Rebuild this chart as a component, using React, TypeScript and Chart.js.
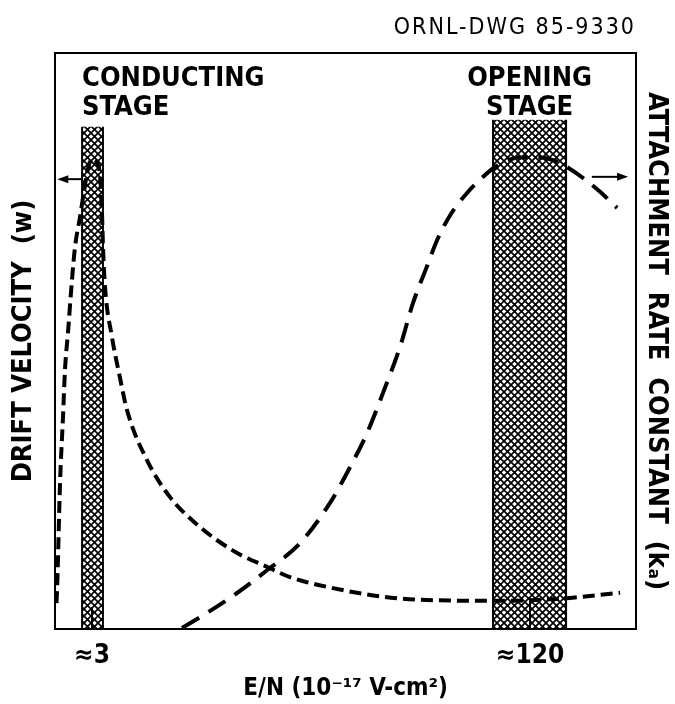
import React, { useEffect, useRef } from 'react';
import { Chart, registerables } from 'chart.js';

Chart.register(...registerables);

// Drift velocity w (left axis), arbitrary units 0-100, vs E/N (10^-17 V-cm^2)
const driftEN = [2.225, 2.24, 2.292, 2.35, 2.39, 2.451, 2.535, 2.6, 2.712, 2.828, 2.925, 3.025, 3.129, 3.209, 3.264, 3.292, 3.348, 3.55, 3.798, 4.029, 4.768, 5.787, 7.45, 10.18, 13.1, 15.9, 22.84, 34.8, 53.03, 87.9, 120.1, 168.2, 256.3];
const driftW = [4.5, 8.0, 25.3, 36.8, 45.0, 51.5, 60.6, 66.3, 71.5, 77.1, 80.6, 81.6, 80.9, 78.8, 72.2, 66.3, 59.4, 50.7, 43.6, 38.0, 29.3, 22.9, 17.7, 13.2, 10.8, 9.0, 7.1, 5.6, 5.0, 4.9, 5.0, 5.4, 6.3];

// Attachment rate constant ka (right axis), arbitrary units 0-100
const attachEN = [6.404, 7.904, 10.18, 13.1, 17.3, 22.27, 26.36, 30.41, 34.8, 40.17, 44.81, 50.43, 54.85, 61.18, 70.62, 80.82, 89.39, 107.6, 127.4, 145.7, 161.2, 187.6, 216.5, 249.9];
const attachK = [0.2, 2.8, 6.25, 10.2, 14.9, 21.9, 28.1, 34.0, 41.0, 49.0, 56.6, 63.0, 67.5, 71.8, 75.7, 78.5, 80.2, 81.8, 81.9, 81.4, 80.4, 78.3, 75.9, 73.1];

// Shaded operating bands
const bandStartEN = [2.76, 87.9];
const bandEndEN = [3.29, 162.6];
const bandTop = [87.2, 88.4];
const bandLabelLines = [['CONDUCTING', 'STAGE'], ['OPENING', 'STAGE']];

// x tick labels
const tickValues = [3, 120];
const tickLabels = ['\u22483', '\u2248120'];
const tickMarkTop = [3.8, 5.4];

// Axis-indicator arrows
const arrowFromEN = [2.76, 202];
const arrowToEN = [2.24, 274];
const arrowY = [78.1, 78.5];

const docNumber = 'ORNL-DWG 85-9330';

const FONT = '"Liberation Sans Narrow", "DejaVu Sans Condensed", "Liberation Sans", Arial, sans-serif';

function makePattern(): CanvasPattern | string {
  const c = document.createElement('canvas');
  const s = 7;
  c.width = s;
  c.height = s;
  const g = c.getContext('2d');
  if (!g) return '#555';
  g.fillStyle = '#fff';
  g.fillRect(0, 0, s, s);
  g.strokeStyle = '#000';
  g.lineWidth = 1.7;
  for (const k of [-s, 0, s]) {
    g.beginPath();
    g.moveTo(k, 0);
    g.lineTo(k + s, s);
    g.moveTo(k + s, 0);
    g.lineTo(k, s);
    g.stroke();
  }
  const p = g.createPattern(c, 'repeat');
  return p || '#555';
}

export default function App() {
  const ref = useRef<HTMLCanvasElement | null>(null);

  useEffect(() => {
    if (!ref.current) return;
    const pattern = makePattern();

    const schematic = {
      id: 'schematic',
      beforeDatasetsDraw(chart: any) {
        const { ctx, chartArea, scales } = chart;
        const x = scales.x;
        const y = scales.y;
        ctx.save();
        for (let i = 0; i < bandStartEN.length; i++) {
          const x0 = x.getPixelForValue(bandStartEN[i]);
          const x1 = x.getPixelForValue(bandEndEN[i]);
          const yt = y.getPixelForValue(bandTop[i]);
          ctx.fillStyle = pattern;
          ctx.fillRect(x0, yt, x1 - x0, chartArea.bottom - yt);
          ctx.strokeStyle = '#000';
          ctx.lineWidth = 2;
          ctx.beginPath();
          ctx.moveTo(x0, yt);
          ctx.lineTo(x0, chartArea.bottom);
          ctx.moveTo(x1, yt);
          ctx.lineTo(x1, chartArea.bottom);
          ctx.stroke();
        }
        // tick marks inside the plot
        ctx.lineWidth = 2;
        for (let i = 0; i < tickValues.length; i++) {
          const px = x.getPixelForValue(tickValues[i]);
          ctx.beginPath();
          ctx.moveTo(px, chartArea.bottom);
          ctx.lineTo(px, y.getPixelForValue(tickMarkTop[i]));
          ctx.stroke();
        }
        ctx.restore();
      },
      afterDatasetsDraw(chart: any) {
        const { ctx, chartArea, scales } = chart;
        const x = scales.x;
        const y = scales.y;
        ctx.save();
        // frame
        ctx.strokeStyle = '#000';
        ctx.lineWidth = 2;
        ctx.strokeRect(chartArea.left, chartArea.top, chartArea.right - chartArea.left, chartArea.bottom - chartArea.top);
        // arrows
        ctx.fillStyle = '#000';
        ctx.lineWidth = 2;
        for (let i = 0; i < arrowFromEN.length; i++) {
          const xa = x.getPixelForValue(arrowFromEN[i]);
          const xb = x.getPixelForValue(arrowToEN[i]);
          const ya = y.getPixelForValue(arrowY[i]);
          const dir = Math.sign(xb - xa);
          ctx.beginPath();
          ctx.moveTo(xa, ya);
          ctx.lineTo(xb - dir * 8, ya);
          ctx.stroke();
          ctx.beginPath();
          ctx.moveTo(xb, ya);
          ctx.lineTo(xb - dir * 11, ya - 4);
          ctx.lineTo(xb - dir * 11, ya + 4);
          ctx.closePath();
          ctx.fill();
        }
        // band labels
        ctx.font = 'bold 27px ' + FONT;
        ctx.textBaseline = 'alphabetic';
        for (let i = 0; i < bandLabelLines.length; i++) {
          const x0 = x.getPixelForValue(bandStartEN[i]);
          const x1 = x.getPixelForValue(bandEndEN[i]);
          const lines = bandLabelLines[i];
          for (let j = 0; j < lines.length; j++) {
            const by = chartArea.top + 33 + j * 29;
            if (i === 0) {
              ctx.textAlign = 'left';
              ctx.fillText(lines[j], x0, by);
            } else {
              ctx.textAlign = 'center';
              ctx.fillText(lines[j], (x0 + x1) / 2, by);
            }
          }
        }
        // drawing number
        ctx.font = '23px ' + FONT;
        ctx.textAlign = 'right';
        (ctx as any).letterSpacing = '2px';
        ctx.fillText(docNumber, chartArea.right, chartArea.top - 19);
        ctx.restore();
      },
    };

    const chart = new Chart(ref.current, {
      type: 'line',
      data: {
        datasets: [
          {
            label: 'Drift velocity (w)',
            data: driftEN.map((v, i) => ({ x: v, y: driftW[i] })),
            yAxisID: 'y',
            borderColor: '#000',
            borderWidth: 4,
            borderDash: [12, 6],
            pointRadius: 0,
            cubicInterpolationMode: 'monotone',
            fill: false,
          },
          {
            label: 'Attachment rate constant (ka)',
            data: attachEN.map((v, i) => ({ x: v, y: attachK[i] })),
            yAxisID: 'y2',
            borderColor: '#000',
            borderWidth: 4,
            borderDash: [20, 11],
            pointRadius: 0,
            cubicInterpolationMode: 'monotone',
            fill: false,
          },
        ],
      },
      options: {
        animation: false,
        responsive: true,
        maintainAspectRatio: false,
        layout: { padding: { top: 53, left: 0, right: 0, bottom: 0 } },
        plugins: {
          legend: { display: false },
          tooltip: { enabled: false },
        },
        scales: {
          x: {
            type: 'logarithmic',
            min: 2.197,
            max: 293,
            grid: { display: false, drawTicks: false },
            border: { display: false },
            afterBuildTicks: (axis: any) => {
              axis.ticks = tickValues.map((v) => ({ value: v }));
            },
            afterFit: (s: any) => {
              s.height = 75;
            },
            ticks: {
              autoSkip: false,
              maxRotation: 0,
              padding: 12,
              color: '#000',
              font: { family: FONT, size: 26, weight: 'bold' },
              callback: (value: any) => {
                const idx = tickValues.findIndex((t) => Math.abs(t - Number(value)) < 1e-6);
                return idx >= 0 ? tickLabels[idx] : '';
              },
            },
            title: {
              display: true,
              text: 'E/N (10\u207B\u00B9\u2077 V-cm\u00B2)',
              color: '#000',
              font: { family: FONT, size: 24, weight: 'bold' },
              padding: { top: 0, bottom: 1 },
            },
          },
          y: {
            position: 'left',
            min: 0,
            max: 100,
            grid: { display: false, drawTicks: false },
            border: { display: false },
            ticks: { display: false },
            afterFit: (s: any) => {
              s.width = 55;
            },
            title: {
              display: true,
              text: 'DRIFT VELOCITY  (w)',
              color: '#000',
              font: { family: FONT, size: 27, weight: 'bold' },
              padding: { top: 8, bottom: 0 },
            },
          },
          y2: {
            position: 'right',
            min: 0,
            max: 100,
            grid: { display: false, drawTicks: false },
            border: { display: false },
            ticks: { display: false },
            afterFit: (s: any) => {
              s.width = 39;
            },
            title: {
              display: true,
              text: 'ATTACHMENT  RATE  CONSTANT  (k\u2090)',
              color: '#000',
              font: { family: FONT, size: 27, weight: 'bold' },
              padding: { top: 3, bottom: 0 },
            },
          },
        },
      },
      plugins: [schematic],
    } as any);

    return () => chart.destroy();
  }, []);

  return (
    <div style={{ position: 'fixed', left: 0, top: 0, width: 675, height: 704, background: '#fff' }}>
      <canvas ref={ref} />
    </div>
  );
}
